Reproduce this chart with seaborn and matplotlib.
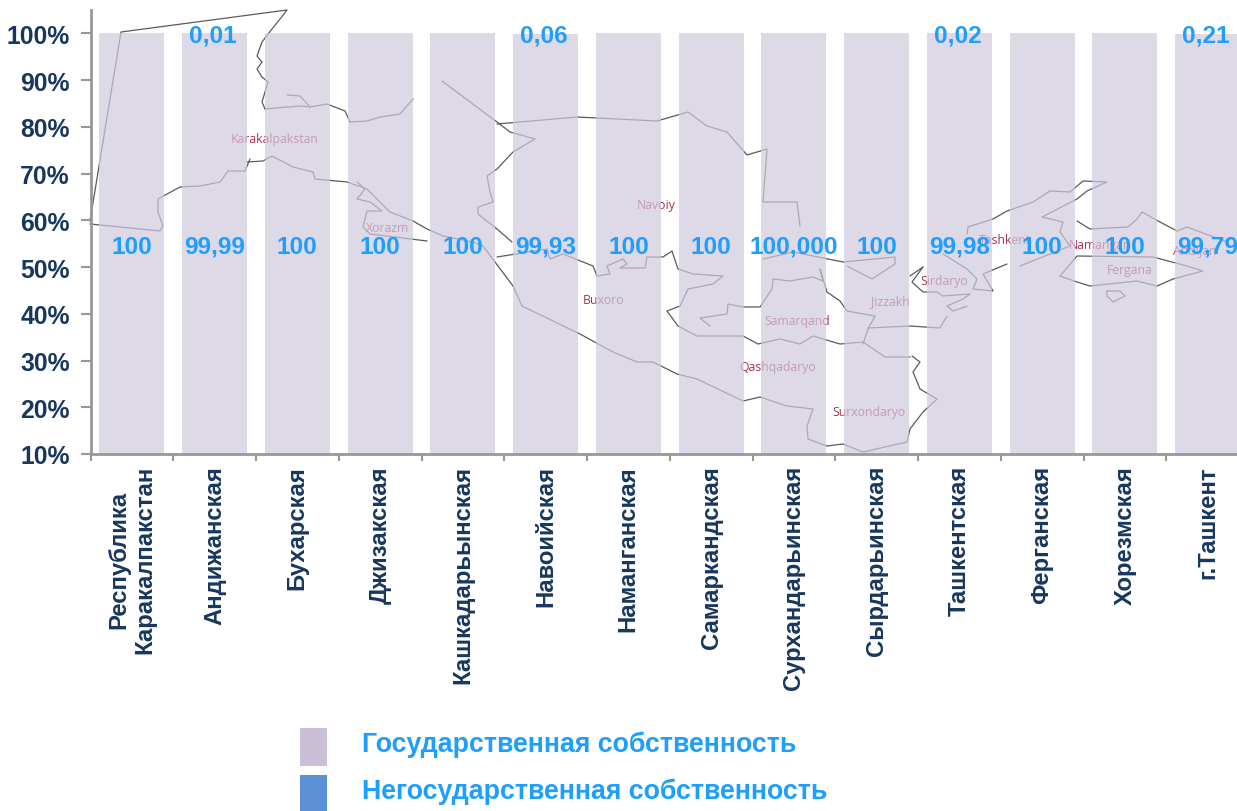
import seaborn as sns
import matplotlib
matplotlib.use('Agg')
import matplotlib.pyplot as plt
from matplotlib.patches import Rectangle

regions = ['Республика\nКаракалпакстан', 'Андижанская', 'Бухарская', 'Джизакская', 'Кашкадарьынская',
	'Навоийская', 'Наманганская', 'Самаркандская', 'Сурхандарьинская', 'Сырдарьинская',
	'Ташкентская', 'Ферганская', 'Хорезмская', 'г.Ташкент']
state = [100, 99.99, 100, 100, 100, 99.93, 100, 100, 100, 100, 99.98, 100, 100, 99.79]
nonstate = [0, 0.01, 0, 0, 0, 0.06, 0, 0, 0, 0, 0.02, 0, 0, 0.21]
state_labels = ['100', '99,99', '100', '100', '100', '99,93', '100', '100', '100,000', '100', '99,98', '100', '100', '99,79']
nonstate_labels = ['', '0,01', '', '', '', '0,06', '', '', '', '', '0,02', '', '', '0,21']
yticks = [10, 20, 30, 40, 50, 60, 70, 80, 90, 100]
legend_names = ['Государственная собственность', 'Негосударственная собственность']

NAVY = '#17375E'
BLUE = '#1E9FFF'
MAPLINE = '#5A5A5A'

#Map picture behind the bars, rough outlines in picture pixels
map_lines = [
	[(90,222),(121,33),(287,11),(280,20),(272,30),(262,43),(257,57),(262,63),(257,70),(262,78),(268,83),(262,103),(265,110)],
	[(90,225),(160,232),(163,227),(158,213),(158,200),(180,188),(200,187),(220,183),(228,172),(245,172),(250,160)],
	[(265,110),(287,108),(302,107),(310,108),(327,105),(345,112),(350,123),(367,122),(380,118),(400,115),(413,100)],
	[(287,96),(300,97),(310,108)],
	[(247,163),(263,162),(272,157),(293,168),(313,173),(315,180),(347,183),(367,190),(390,213),(413,222),(427,230),(443,237),(473,243),(483,247),(495,263),(510,283),(513,287),(522,307),(580,335),(613,353),(637,363),(653,363),(677,375),(697,380),(743,402),(760,398),(787,407),(813,410),(807,427),(808,440),(827,447),(843,445),(863,453),(907,443),(910,430),(923,413),(937,400),(920,390),(913,373),(920,363),(912,357)],
	[(357,183),(365,190),(357,200),(370,203),(382,212),(367,212),(363,228),(370,235),(427,242)],
	[(442,82),(497,123),(510,133),(535,140),(513,153),(497,170),(487,177),(490,193),(493,203),(478,208),(478,215),(497,230),(512,243)],
	[(497,125),(577,118),(657,122),(688,113),(707,127),(727,133),(747,156),(767,150),(763,203),(797,203),(800,227)],
	[(497,258),(547,250),(550,260),(563,255),(593,267),(597,277),(610,275),(607,267),(623,260),(627,265),(620,269),(645,269),(647,258),(663,258),(672,252),(678,270),(693,275),(723,277),(713,285),(688,290),(680,307),(667,312),(678,327),(697,337),(743,337),(758,345),(780,340),(800,345),(813,337),(840,345),(863,343),(885,358),(910,358)],
	[(710,327),(700,319),(727,315),(728,305),(743,308),(760,308),(772,290),(773,280),(790,282),(813,278),(823,282),(820,270),(827,293),(840,302),(847,312),(875,317),(868,330),(863,345)],
	[(868,329),(910,327),(940,329),(947,317)],
	[(763,260),(793,253),(843,263),(895,258),(895,265),(872,280),(847,267)],
	[(910,277),(923,268)],
	[(923,268),(912,283),(923,293),(937,293),(943,297),(970,295),(963,300),(947,307),(953,312),(967,307)],
	[(943,255),(967,270),(977,280),(973,290),(993,292),(983,275),(1007,265)],
	[(967,235),(968,228),(993,220),(1007,212),(1033,203),(1050,192),(1070,193),(1083,182),(1107,183),(1087,192),(1077,200),(1042,218),(1063,223),(1060,233),(1070,247),(1020,267)],
	[(1060,277),(1077,283),(1090,287),(1137,282),(1157,287),(1173,280),(1203,272),(1187,267),(1153,258),(1077,257),(1060,277)],
	[(1077,222),(1090,230),(1128,228),(1137,220),(1142,213),(1160,223),(1177,232),(1187,228),(1227,243)],
	[(1107,292),(1120,292),(1125,297),(1113,303),(1107,297),(1107,292)],
]
map_names = ['Karakalpakstan', 'Xorazm', 'Navoiy', 'Buxoro', 'Samarqand', 'Qashqadaryo', 'Surxondaryo',
	'Jizzakh', 'Sirdaryo', 'Tashkent', 'Namangan', 'Fergana', 'Andijan']
map_name_x = [275, 388, 656, 604, 797, 778, 869, 890, 944, 1005, 1100, 1130, 1195]
map_name_y = [139, 229, 206, 301, 322, 368, 413, 302, 282, 240, 245, 271, 252]

sns.set_theme(style='white')
plt.rcParams['font.family'] = ['Liberation Sans', 'DejaVu Sans']

W, H = 1237, 812
fig = plt.figure(figsize=(W/100, H/100), dpi=100, facecolor='white')

#Background layer in pixel coordinates
bg = fig.add_axes([0, 0, 1, 1], zorder=0)
bg.set_xlim(0, W)
bg.set_ylim(H, 0)
bg.axis('off')
for line in map_lines:
	bg.plot([p[0] for p in line], [p[1] for p in line], color=MAPLINE, lw=0.9, solid_joinstyle='round')
for name, mx, my in zip(map_names, map_name_x, map_name_y):
	bg.text(mx, my, name, color='#A8324A', fontsize=8.8, ha='center', va='center', family=['Open Sans', 'DejaVu Sans'])

#Legend
bg.add_patch(Rectangle((300, 729), 27, 38, color='#CBBFD8', lw=0))
bg.add_patch(Rectangle((300, 776), 27, 36, color='#5B8FD6', lw=0))
bg.text(362, 745, legend_names[0], color=BLUE, fontsize=19.3, fontweight='bold', va='center', ha='left')
bg.text(362, 792, legend_names[1], color=BLUE, fontsize=19.3, fontweight='bold', va='center', ha='left')

#Chart, the last category runs past the right edge like in the source
ax = fig.add_axes([90.5/W, 1-455/H, 1158.5/W, 444/H], zorder=1)
ax.patch.set_visible(False)
sns.barplot(x=regions, y=state, color='#D0C9DE', saturation=1, alpha=0.7, width=0.785, linewidth=0, ax=ax)
#the non state part never shows in the source, only its labels do
sns.barplot(x=regions, y=nonstate, bottom=state, color='#5B8FD6', saturation=1, alpha=0, width=0.785, linewidth=0, ax=ax)
ax.set_xlim(-0.5, len(regions)-0.5)
ax.set_ylim(10, 105)

for i, label in enumerate(state_labels):
	ax.text(i, 54.4, label, color=BLUE, fontsize=17.6, fontweight='bold', ha='center', va='center')
for i, label in enumerate(nonstate_labels):
	if label:
		ax.text(i-0.02, 99.7, label, color=BLUE, fontsize=17.6, fontweight='bold', ha='center', va='center')

ax.set_yticks(yticks)
ax.set_yticklabels([str(t)+'%' for t in yticks], color=NAVY, fontsize=17.8, fontweight='bold')
ax.set_xticks(range(len(regions)))
ax.set_xticklabels(regions, rotation=90, color=NAVY, fontsize=17.2, fontweight='bold', linespacing=1.2)
ax.set_xticks([i-0.5 for i in range(len(regions)+1)], minor=True)
ax.tick_params(axis='x', which='major', length=0, pad=8)
ax.tick_params(axis='x', which='minor', length=5, width=1.5, color='#989898', bottom=True)
ax.tick_params(axis='y', which='major', length=7, width=1.5, color='#989898', left=True, pad=8)
ax.set_xlabel('')
ax.set_ylabel('')
for side in ['top', 'right']:
	ax.spines[side].set_visible(False)
for side in ['left', 'bottom']:
	ax.spines[side].set_color('#989898')
	ax.spines[side].set_linewidth(2)

plt.savefig('out.png', dpi=100)
